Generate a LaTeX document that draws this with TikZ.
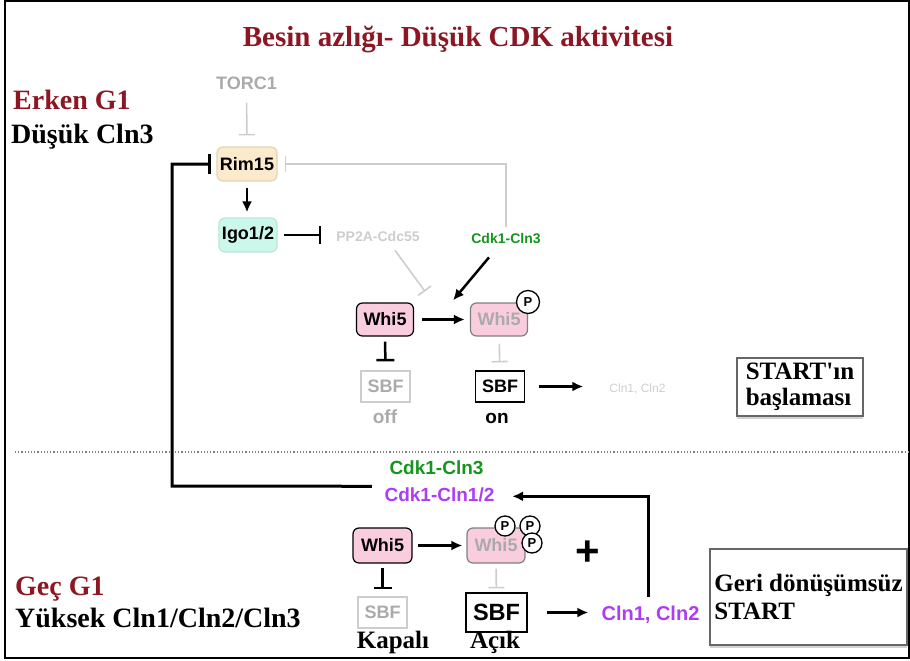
\documentclass[tikz,border=0pt]{standalone}
\usepackage{fontspec}
\setmainfont{Liberation Serif}
\setsansfont{Liberation Sans}
\usepackage{tikz}
\usetikzlibrary{arrows.meta,shadows}
\definecolor{titlered}{RGB}{140,22,34}
\definecolor{cdkgreen}{RGB}{20,150,30}
\definecolor{clnpurple}{RGB}{175,60,245}
\definecolor{whipink}{RGB}{250,205,222}
\definecolor{rimfill}{RGB}{252,234,204}
\definecolor{rimline}{RGB}{226,212,185}
\definecolor{igofill}{RGB}{204,248,236}
\definecolor{igoline}{RGB}{190,228,218}
\definecolor{faintgray}{RGB}{170,170,170}
\definecolor{palegray}{RGB}{205,205,205}
\newcommand{\fsz}[1]{\fontsize{#1}{#1}\selectfont}

\begin{document}
\begin{tikzpicture}[x=1pt,y=-1pt,
                    lbl/.style={font=\sffamily\bfseries\fsz{#1},inner sep=0pt},
                    serif/.style={font=\bfseries\fsz{#1},inner sep=0pt},
                    prot/.style={draw=black,rounded corners=6pt,line width=1.2pt,minimum width=57pt,minimum height=33pt,inner sep=0pt,font=\sffamily\bfseries\fsz{18}},
                    sbf/.style={draw=black,line width=1.2pt,minimum width=49pt,minimum height=31pt,inner sep=0pt,font=\sffamily\bfseries\fsz{18}},
                    phos/.style={circle,draw=black,line width=1.3pt,fill=white,inner sep=0pt,minimum size=20pt,font=\sffamily\bfseries\fsz{13}},
                    startbox/.style={draw=gray!80!black,line width=1.2pt,fill=white,align=left,inner sep=0pt,
                                     drop shadow={shadow xshift=0pt,shadow yshift=-2.5pt,fill=gray!70}},
                    act/.style={line width=2.5pt,-{Latex[length=11pt,width=10pt]}},
                    inh/.style={line width=2.5pt,-{Bar[width=18pt]}},
                    inhg/.style={line width=1.6pt,draw=palegray,-{Bar[width=16pt]}}
                ]
                    \useasboundingbox (0,0) rectangle (910,661);
                    \draw[line width=1.5pt] (5,1) rectangle (909,658);

                    % headings
                    \node[serif=29,text=titlered,anchor=base] (title) at (458,47) {Besin azlığı- Düşük CDK aktivitesi};
                    \node[serif=28,text=titlered,anchor=base west] (early) at (13,109) {Erken G1};
                    \node[serif=28,anchor=base west] (low) at (11,143) {Düşük Cln3};
                    \node[serif=28,text=titlered,anchor=base west] (late) at (15,595) {Geç G1};
                    \node[serif=28,anchor=base west] (high) at (15,627) {Yüksek Cln1/Cln2/Cln3};

                    % early G1
                    \node[lbl=18,text=faintgray] (torc) at (246.5,83) {TORC1};
                    \node[prot,fill=rimfill,draw=rimline,minimum width=60pt,minimum height=34pt] (rim) at (247,164) {Rim15};
                    \node[prot,fill=igofill,draw=igoline,minimum width=58pt,minimum height=34pt] (igo) at (248,235) {Igo1/2};
                    \node[lbl=14,text=palegray,anchor=base] (pp2a) at (378,241) {PP2A-Cdc55};
                    \node[lbl=14,text=cdkgreen,anchor=base] (cln3a) at (506,243) {Cdk1-Cln3};
                    \node[prot,fill=whipink] (whiA) at (385,319.5) {Whi5};
                    \node[prot,fill=whipink,draw=gray,text=faintgray] (whiB) at (499,319.5) {Whi5};
                    \node[phos,minimum size=23pt] (pA) at (528,302) {P};
                    \node[sbf,draw=palegray,text=faintgray] (sbfA) at (385.5,386.5) {SBF};
                    \node[sbf] (sbfB) at (500,386.5) {SBF};
                    \node[lbl=19,text=faintgray,anchor=base] (off) at (385,423) {off};
                    \node[lbl=19,anchor=base] (on) at (497,423) {on};
                    \node[inner sep=0pt,font=\sffamily\fsz{12},text=palegray,anchor=base] (clnA) at (637.5,392) {Cln1, Cln2};
                    \node[startbox,minimum width=126pt,minimum height=58pt,font=\bfseries\fontsize{25}{26}\selectfont] (startA) at (800,387) {START\textquotesingle ın\\başlaması};

                    \draw[inhg,shorten <=13pt,shorten >=11pt] (torc) -- (rim);
                    \draw[act,shorten <=6pt,shorten >=5pt] (rim.south) -- (rim.south |- igo.north);
                    \draw[inh,shorten <=6pt,shorten >=15pt] (igo.east) -- (igo.east -| pp2a.west);
                    \draw[inhg,shorten <=5.5pt,shorten >=7pt] (cln3a.north) |- (rim.east);
                    \draw[inhg] ([xshift=17pt,yshift=-9pt]pp2a.south) -- ([xshift=40pt,yshift=11pt]whiA.north);
                    \draw[act] ([xshift=-17pt,yshift=-14pt]cln3a.south) -- ([xshift=-46pt,yshift=2pt]whiB.north);
                    \draw[act,shorten <=8pt,shorten >=5pt] (whiA) -- (whiB);
                    \draw[inh,shorten <=5pt,shorten >=9pt] (whiA) -- (sbfA);
                    \draw[inhg,shorten <=7pt,shorten >=8pt] (whiB) -- (sbfB);
                    \draw[act,shorten <=14pt,shorten >=26pt] (sbfB.east) -- (sbfB.east -| clnA.west);

                    \draw[dotted,line width=1.2pt,gray] (15,452) -- (908,452);

                    % late G1
                    \node[lbl=19,text=cdkgreen,anchor=base] (cln3b) at (436.5,474) {Cdk1-Cln3};
                    \node[lbl=19,text=clnpurple,anchor=base] (cdk12) at (439.5,501) {Cdk1-Cln1/2};
                    \node[prot,fill=whipink,minimum width=59pt,minimum height=35pt] (whiC) at (382.5,545.5) {Whi5};
                    \node[prot,fill=whipink,draw=gray,text=faintgray,minimum width=58pt,minimum height=35pt] (whiD) at (496,545.5) {Whi5};
                    \foreach \px/\py [count=\k] in {505/526,530/526,532/543}
                        {
                        \node[phos] (p\k) at (\px,\py) {P};
                    }
                    \node[lbl=42] (plus) at (588,553) {+};
                    \node[sbf,draw=palegray,text=faintgray] (sbfC) at (382.5,612.5) {SBF};
                    \node[sbf,minimum width=61pt,minimum height=39pt,font=\sffamily\bfseries\fsz{23.5}] (sbfD) at (496.5,612.5) {SBF};
                    \node[serif=25,anchor=base] (closed) at (393,648) {Kapalı};
                    \node[serif=25,anchor=base] (open) at (495,648) {Açık};
                    \node[lbl=20,text=clnpurple,anchor=base] (clnB) at (650.5,620) {Cln1, Cln2};
                    \node[startbox,minimum width=197pt,minimum height=96pt,font=\bfseries\fontsize{25}{28}\selectfont] (startB) at (808.5,597) {Geri dönüşümsüz\\START};

                    \coordinate (fbturn) at (172,486);
                    \draw[inh,line width=3pt,-{Bar[width=20pt]},shorten <=12.6pt,shorten >=5pt] ([yshift=8pt]cdk12.west) -- (fbturn) |- (rim.west);
                    \draw[act,shorten <=8.5pt,shorten >=17.5pt] ([xshift=-2pt]clnB.north) |- ([yshift=-2pt]cdk12.east);
                    \draw[act,shorten <=5pt,shorten >=4pt] (whiC) -- (whiD);
                    \draw[inh,shorten <=4pt,shorten >=7pt] (whiC) -- (sbfC);
                    \draw[inhg,shorten <=5pt,shorten >=4pt] (whiD) -- (sbfD);
                    \draw[act,shorten <=19pt,shorten >=13pt] (sbfD.east) -- (sbfD.east -| clnB.west);

                \end{tikzpicture}
\end{document}
